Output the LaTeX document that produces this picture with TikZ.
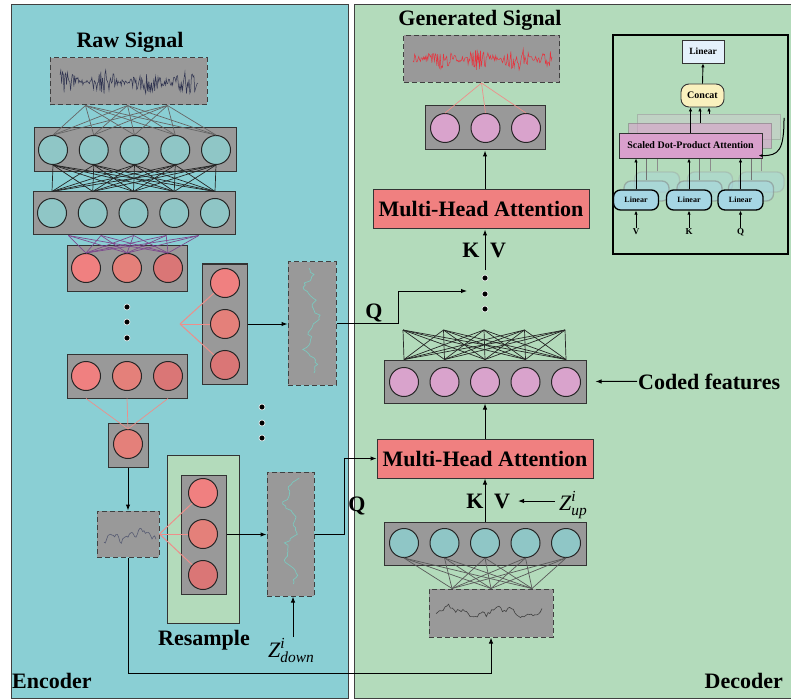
\documentclass[tikz,border=0pt]{standalone}
\usepackage{fontspec}
\usepackage{amsmath}
\setmainfont{Liberation Serif}
\usetikzlibrary{arrows.meta,calc}
\definecolor{encbg}{HTML}{8ACFD4}
\definecolor{decbg}{HTML}{B3DBBB}
\definecolor{boxgray}{HTML}{999999}
\definecolor{tealc}{HTML}{8FC6C6}
\definecolor{redA}{HTML}{F08080}
\definecolor{redB}{HTML}{E4807A}
\definecolor{redC}{HTML}{DA7676}
\definecolor{pinkc}{HTML}{D9A3CC}
\definecolor{mhac}{HTML}{F08080}
\definecolor{salmon}{HTML}{EE8E8A}
\definecolor{purp}{HTML}{7E4A8E}
\definecolor{sigteal}{HTML}{7CC8BE}
\definecolor{sigdark}{HTML}{2F3350}
\definecolor{sigred}{HTML}{E8323C}
\definecolor{linblue}{HTML}{A6D6E4}
\definecolor{toplin}{HTML}{E4F1FB}
\definecolor{concatc}{HTML}{FAF1BE}
\definecolor{sdpac}{HTML}{D9A0CC}
\begin{document}
\begin{tikzpicture}[x=1pt,y=-1pt,
 panel/.style={draw=black!75, line width=1pt},
 layerbox/.style={rectangle, draw=black!80, fill=boxgray, line width=1pt, inner sep=0},
 sigbox/.style={rectangle, draw=black!75, fill=boxgray, dash pattern=on 5pt off 3pt, line width=1pt, inner sep=0},
 neuron/.style={circle, draw=black!85, line width=1pt, minimum size=29pt, inner sep=0},
 big/.style={font=\fontsize{22}{24}\selectfont\bfseries, inner sep=1pt},
 arr/.style={-{Latex[length=6pt,width=4.5pt]}, line width=1pt},
 link/.style={line width=0.7pt},
 dotn/.style={circle, fill=black, draw=white, line width=0.6pt, minimum size=6pt, inner sep=0},
 mhabox/.style={rectangle, draw=black!80, fill=mhac, line width=1pt, minimum width=216pt, minimum height=39pt, inner sep=0, font=\fontsize{22}{24}\selectfont\bfseries},
 sdpabox/.style={rectangle, draw=black!80, fill=sdpac, line width=0.9pt, minimum width=143pt, minimum height=25pt, inner sep=0},
 linbox/.style={rectangle, draw=black, fill=linblue, line width=1.3pt, rounded corners=7pt, minimum width=45pt, minimum height=20pt, inner sep=0, font=\fontsize{8}{9}\selectfont\bfseries},
 sarr/.style={-{Latex[length=4pt,width=3.5pt]}, line width=0.9pt},
 tiny/.style={font=\fontsize{9}{10}\selectfont\bfseries, inner sep=1pt}
]
\useasboundingbox (0,0) rectangle (791,700);
\pgfmathsetseed{17}
% panels
\fill[white] (0,0) rectangle (791,700);
\fill[encbg] (11,5) rectangle (348,698);
\draw[panel] (11,5) rectangle (348,698);
\fill[decbg] (354,5) rectangle (797,698);
\draw[panel] (354,5) rectangle (797,698);

% ================= ENCODER =================
\node[big, anchor=base] (rawlbl) at (130,48) {Raw Signal};
\node[sigbox, minimum width=157pt, minimum height=47pt] (raw) at (128.5,81.5) {};
\draw[sigdark, line width=0.5pt] plot[domain=60:198, samples=170] (\x, {82 + (3 + 9*abs(sin(\x*4.3))^2)*rand});

\node[layerbox, minimum width=202pt, minimum height=44pt] (L1) at (135,150) {};
\node[layerbox, minimum width=202pt, minimum height=43pt] (L2) at (134,213.5) {};
\node[layerbox, minimum width=120pt, minimum height=45pt] (L3) at (127,268.5) {};
\node[layerbox, minimum width=120pt, minimum height=44pt] (L4) at (127,376) {};
\node[layerbox, minimum width=40pt, minimum height=44pt] (L5) at (128,445) {};

\foreach \i in {0,...,4} \node[neuron, fill=tealc] (L1c\i) at ({53+40.75*\i},150) {};
\foreach \i in {0,...,4} \node[neuron, fill=tealc] (L2c\i) at ({52+40.75*\i},213) {};
\foreach \i/\c in {0/redA,1/redB,2/redC} \node[neuron, fill=\c] (L3c\i) at ({86+41*\i},268) {};
\foreach \i/\c in {0/redA,1/redB,2/redC} \node[neuron, fill=\c] (L4c\i) at ({86+41*\i},376) {};
\node[neuron, fill=redB] (L5c) at (128,444) {};

% raw -> L1
\foreach \s in {-43,-1,39} \foreach \j in {0,...,4}
  \draw[link, black!60] ($(raw.south)+(\s,0)$) -- (L1c\j.north);
% L1 -> L2
\foreach \i in {0,...,4} \foreach \j in {0,...,4}
  \draw[link, black!85] (L1c\i.south) -- (L2c\j |- L2.north);
% L2 -> L3
\foreach \i in {0,...,4} \foreach \j in {0,1,2}
  \draw[link, purp] ($(L2c\i |- L2.south)!0.2!(L2.south)$) -- (L3c\j.north);
% dots
\foreach \k/\yy in {1/307,2/322,3/338} \node[dotn] (ed\k) at (127,\yy) {};
% L4 -> L5
\foreach \i in {0,1,2} \draw[link, salmon] (L4c\i |- L4.south) -- (L5c.north);

% small signal
\node[sigbox, minimum width=62pt, minimum height=46pt] (small) at (128,534) {};
\draw[sigdark!80, line width=0.6pt] plot[domain=104:156, samples=40] (\x, {537 + 2*rand - 9*exp(-((\x-141)/5)^2) - 3*sin(\x*20) - 2*sin(\x*47)});
\draw[arr] (L5.south) -- (small.north);

% resample
\node[rectangle, draw=black!80, fill=decbg, line width=1pt, minimum width=72pt, minimum height=168pt, inner sep=0] (resg) at (203,539) {};
\node[layerbox, minimum width=45pt, minimum height=119pt] (R2) at (203.5,534.5) {};
\foreach \i/\yy/\c in {0/493/redA,1/534/redB,2/575/redC} \node[neuron, fill=\c] (R2c\i) at (203,\yy) {};
\foreach \i in {0,1,2} \draw[link, salmon, line width=1pt] (small.east) -- (R2c\i);
\node[big, anchor=base] (reslbl) at (204,645) {Resample};

% lower tall signal
\node[sigbox, minimum width=47pt, minimum height=124pt] (t2) at (290.5,534) {};
\draw[sigteal, line width=0.7pt] plot[domain=478:584, samples=50] ({291 + 5*sin(\x*7) + 3*sin(\x*19+40) + 2*rand}, \x);
\draw[arr] (R2.east) -- (R2.east -| t2.west);

% upper resample column
\node[layerbox, minimum width=45pt, minimum height=120pt] (R1) at (224.5,324) {};
\foreach \i/\yy/\c in {0/283/redA,1/324/redB,2/365/redC} \node[neuron, fill=\c] (R1c\i) at (225,\yy) {};
\coordinate (fan1) at (180,324);
\foreach \i in {0,1,2} \draw[link, salmon, line width=1pt] (fan1) -- (R1c\i);
\node[sigbox, minimum width=48pt, minimum height=123pt] (t1) at (312,323.5) {};
\draw[sigteal, line width=0.7pt] plot[domain=268:373, samples=50] ({312 + 5*sin(\x*6) + 3*sin(\x*17+70) + 2*rand}, \x);
\draw[arr] (R1.east) -- (R1.east -| t1.west);

% middle dots
\foreach \k/\yy in {1/407,2/423,3/438} \node[dotn] (md\k) at (262,\yy) {};

% Z down
\node[font=\fontsize{22}{24}\selectfont, anchor=base west, inner sep=0] (zd) at (268,657) {$\textit{Z}^{\textit{i}}_{\textit{down}}$};
\coordinate (zdt) at (293,637);
\draw[arr] (zdt) -- (zdt |- t2.south);

\node[big, anchor=base west, inner sep=0] (enc) at (12,688) {Encoder};

% ================= DECODER =================
\node[big, anchor=base] (genlbl) at (480,26) {Generated Signal};
\node[sigbox, minimum width=156pt, minimum height=47pt] (gen) at (481.5,59) {};
\draw[sigred, line width=0.5pt] plot[domain=413:552, samples=170] (\x, {59 + (3 + 9*abs(sin(\x*4.7))^2)*rand});

\node[layerbox, minimum width=120pt, minimum height=44pt] (Pb) at (485,128) {};
\foreach \i in {0,1,2} \node[neuron, fill=pinkc] (P\i) at ({445+40.5*\i},128) {};
\foreach \i in {0,1,2} \draw[link, salmon] (gen.south) -- (P\i.north);

\node[mhabox] (M1) at (481,209.5) {Multi-Head Attention};
\draw[arr] (Pb.south |- M1.north) -- (Pb.south);

\coordinate (kv1) at (485,270);
\draw[arr] (kv1) -- (kv1 |- M1.south);
\node[big, anchor=base] (K1) at (471,258) {K};
\node[big, anchor=base] (V1) at (498,258) {V};
\foreach \k/\yy in {1/278,2/294,3/309} \node[dotn] (dd\k) at (485,\yy) {};

% coded features layer
\node[layerbox, minimum width=202pt, minimum height=43pt] (Cb) at (485,381.5) {};
\foreach \i in {0,...,4} \node[neuron, fill=pinkc] (Cc\i) at ({404+40.5*\i},382) {};
\foreach \i in {0,...,4} \coordinate (ct\i) at ({403+40.5*\i},330);
\foreach \i in {0,...,4} \foreach \j in {0,...,4}
  \draw[link, black!85] (ct\i) -- (Cc\j |- Cb.north);
\node[big, anchor=base west] (cf) at (637,389) {Coded features};
\draw[arr] (cf.west) -- ($(Cb.east)+(9,0)$);

% upper Q path
\coordinate (qend1) at (467,291);
\draw[arr] (t1.east) -- ++(62,0) |- (qend1);
\node[big, anchor=base] (Q1) at (374,318) {Q};

% MHA 2
\node[mhabox] (M2) at (485,458.5) {Multi-Head Attention};
\draw[arr] (Cb.south |- M2.north) -- (Cb.south);
\draw[arr] (t2.east) -- ++(30,0) |- (M2.west);
\node[big, anchor=base] (Q2) at (357,511) {Q};

% up layer
\node[layerbox, minimum width=202pt, minimum height=43pt] (Ub) at (485,543.5) {};
\foreach \i in {0,...,4} \node[neuron, fill=tealc] (Uc\i) at ({404+40.5*\i},543) {};
\draw[arr] (Ub.north) -- (M2.south);
\node[big, anchor=base] (K2) at (475,508) {K};
\node[big, anchor=base] (V2) at (502,508) {V};
\node[font=\fontsize{22}{24}\selectfont, anchor=base west, inner sep=0] (zu) at (559,510) {$\textit{Z}^{\textit{i}}_{\textit{up}}$};
\coordinate (zus) at (555,501);
\draw[arr] (zus) -- ++(-37,0);

% decoder input signal
\node[sigbox, minimum width=124pt, minimum height=48pt] (dsig) at (491,613) {};
\draw[black!75, line width=0.6pt] plot[domain=436:542, samples=60] (\x, {612 + 4*sin(\x*7) + 2*sin(\x*23+30) + 2*rand});
\foreach \s in {-39,0,41} \foreach \j in {0,...,4}
  \draw[link, black!65] ($(dsig.north)+(\s,0)$) -- (Uc\j.south);

% long skip connection
\draw[arr] (small.south) -- ++(0,116) -| (dsig.south);

\node[big, anchor=base east, inner sep=0] (dec) at (783,688) {Decoder};

% ================= INSET =================
\node[rectangle, draw=black, line width=2.2pt, fill=decbg, minimum width=175pt, minimum height=219pt, inner sep=0] (inset) at (700.5,144.5) {};
\node[rectangle, draw=black!80, fill=toplin, line width=0.9pt, minimum width=42pt, minimum height=23pt, inner sep=0, font=\fontsize{9.5}{10}\selectfont\bfseries] (TL) at (703,51.5) {Linear};
\node[rectangle, draw=black!80, fill=concatc, line width=0.9pt, rounded corners=8pt, minimum width=43pt, minimum height=23pt, inner sep=0, font=\fontsize{10}{11}\selectfont\bfseries] (CC) at (702.5,95.5) {Concat};
\draw[sarr] (CC.north) -- (TL.south);

\node[sdpabox, draw=black!40, fill=gray!40, opacity=0.55] (S3) at (709,127) {};
\node[sdpabox, draw=black!50, opacity=0.6] (S2) at (700,136) {};
\draw[sarr] (S3.north) -- (S3.north |- CC.south);
\draw[sarr] (S2.north) -- (S2.north |- CC.south);

\foreach \n/\xx in {V/636,K/689,Q/740.5} {
  \node[linbox, draw=black!40, opacity=0.35] (L\n b) at (\xx+21,182) {};
  \node[linbox, draw=black!50, opacity=0.5] (L\n a) at (\xx+10.5,191) {};
  \draw[line width=0.9pt, black!45] (L\n b.north) -- (L\n b.north |- S3.south);
  \draw[line width=0.9pt, black!55] (L\n a.north) -- (L\n a.north |- S2.south);
}
\node[sdpabox, font=\fontsize{10}{11}\selectfont\bfseries] (S1) at (690.5,145.5) {Scaled Dot-Product Attention};
\draw[sarr] (S1.north) -- (S1.north |- CC.south);
\draw[line width=1pt, {Latex[length=4pt,width=3pt]}-] ($(S1.east)+(-4,10)$) .. controls (779,156) and (784,150) .. (784,118);

\foreach \n/\xx in {V/636,K/689,Q/740.5} {
  \node[linbox] (L\n) at (\xx,200) {Linear};
  \node[tiny, anchor=base] (I\n) at (\xx,235) {\n};
  \draw[sarr] (I\n.north) -- (L\n.south);
  \draw[sarr] (L\n.north) -- (L\n.north |- S1.south);
}
\end{tikzpicture}
\end{document}
